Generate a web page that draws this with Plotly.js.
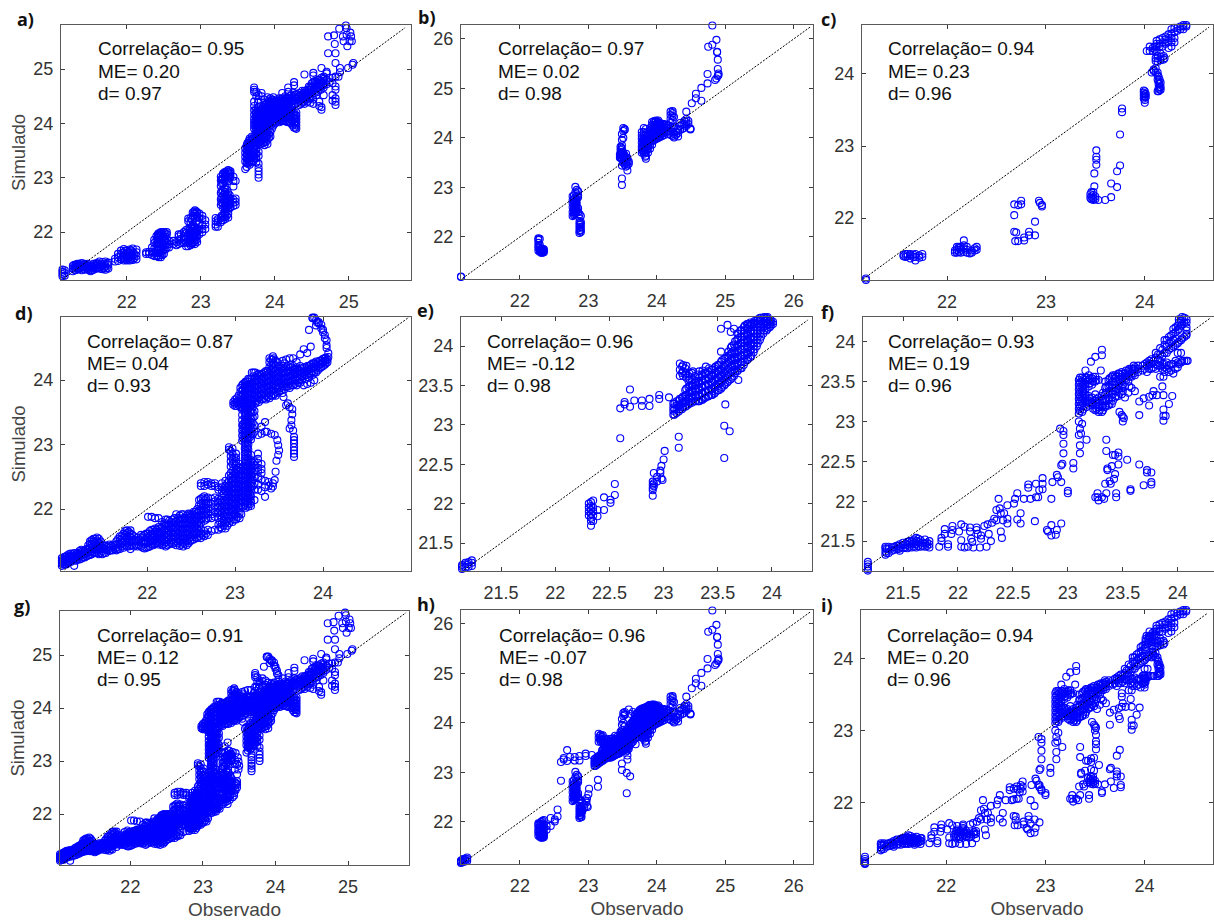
<!DOCTYPE html>
<html><head><meta charset="utf-8">
<script src="https://cdn.plot.ly/plotly-3.0.1.min.js"></script>
<style>html,body{margin:0;padding:0;background:#fff}</style></head>
<body><div id="chart" style="width:1214px;height:920px"></div>
<script>
// every strip below is [x, y, y, y ...]
const stripsA=[[21.1,21.2,21.24,21.28],[21.13,21.19,21.23,21.27,21.31],[21.16,21.2,21.25,21.3],
[21.27,21.28,21.33,21.38],[21.31,21.3,21.36,21.4],[21.35,21.32,21.37,21.42],[21.39,21.3,21.36,21.43],[21.43,21.31,21.37,21.42],[21.47,21.32,21.38,21.42],[21.51,21.28,21.34,21.39],[21.55,21.31,21.36,21.42],[21.59,21.33,21.38,21.43],[21.63,21.33,21.39,21.46],[21.67,21.32,21.38,21.45],[21.71,21.31,21.37,21.46],[21.75,21.33,21.4,21.44],
[21.84,21.46,21.51],[21.88,21.47,21.54,21.6],[21.92,21.5,21.58,21.66],[21.96,21.48,21.55,21.62,21.69],[22,21.48,21.55,21.62,21.66],[22.04,21.48,21.55,21.62,21.68],[22.08,21.49,21.56,21.63,21.7],[22.13,21.5,21.56,21.63,21.68],
[22.26,21.6,21.63],[22.3,21.6,21.64],[22.34,21.58,21.64,21.72],[22.37,21.56,21.62,21.7,21.8,21.86],[22.4,21.56,21.62,21.7,21.78,21.86,21.93],[22.43,21.54,21.62,21.7,21.78,21.86,21.94,21.98],[22.46,21.54,21.62,21.7,21.78,21.86,21.94,22],[22.5,21.6,21.68,21.76,21.84,21.92,22],[22.54,21.72,21.8,21.88,21.96,22],[22.57,21.72,21.78,21.84],
[22.63,21.78,21.84],[22.67,21.76,21.82],[22.7,21.78,21.85,21.92,21.96],[22.73,21.8,21.88,21.96],[22.77,21.8,21.86,21.92,22],[22.8,21.74,21.82,21.9,21.98,22.04],[22.83,21.74,21.8,21.88,21.96,22.06,22.2,22.25],[22.86,21.76,21.84,21.92,22,22.08,22.18,22.26],[22.89,21.8,21.9,21.98,22.06,22.14,22.3,22.36],[22.92,21.78,21.86,21.96,22.02,22.1,22.26,22.34,22.4],[22.95,21.82,21.92,22,22.06,22.2,22.28,22.36],[22.98,21.96,22.04,22.16,22.26,22.34],[23.02,22,22.06,22.14,22.24,22.3],[23.06,22.06,22.14,22.22],
[23.2,22.1,22.14,22.2,22.26],[23.23,22.1,22.18,22.24],[23.27,22.18,22.26,22.5,22.6,22.72,22.85,22.95,23.02],[23.3,22.22,22.3,22.44,22.52,22.6,22.68,22.76,22.9,22.98,23.06,23.08],[23.33,22.24,22.32,22.42,22.5,22.58,22.66,22.74,22.82,22.98,23.06,23.1],[23.37,22.27,22.34,22.44,22.5,22.58,22.64,22.72,22.94,23.02,23.1,23.14],[23.4,22.46,22.54,22.62,23.02,23.08,23.12],[23.44,22.48,22.54,22.6,22.84,22.94,23.02],[23.47,22.5,22.56,22.62,22.94],
[23.6,23.16,23.3,23.38,23.46,23.54],[23.63,23.26,23.34,23.42,23.5,23.58,23.64],[23.66,23.24,23.32,23.4,23.48,23.56,23.64,23.72],[23.69,23.28,23.36,23.44,23.52,23.6,23.68,23.76],
[23.72,23.36,23.44,23.52,23.6,23.68,23.76,23.9,23.96,24.02,24.08,24.16,24.24,24.32,24.4,24.58,24.62,24.66],
[23.75,23.28,23.36,23.44,23.52,23.6,23.68,23.76,23.82,23.9,23.96,24.02,24.08,24.14,24.2,24.5,24.58],
[23.78,23,23.06,23.12,23.18,23.26,23.4,23.48,23.62,23.7,23.78,23.86,23.92,23.98,24.04,24.1,24.16,24.22,24.3,24.44,24.52],
[23.82,23.62,23.68,23.76,23.84,23.9,23.96,24.02,24.08,24.14,24.2,24.26,24.5,24.56],
[23.86,23.6,23.66,23.74,23.82,23.9,23.96,24.02,24.08,24.14,24.2,24.26,24.34,24.44],
[23.9,23.62,23.7,23.78,23.86,23.94,24.02,24.08,24.14,24.2,24.26,24.32,24.38,24.48],
[23.94,23.76,23.84,23.96,24.04,24.1,24.16,24.22,24.28,24.34,24.4,24.46],
[23.98,23.96,24.04,24.1,24.16,24.22,24.28,24.34,24.4,24.48],
[24.02,24.02,24.08,24.14,24.2,24.26,24.32,24.38,24.44],
[24.06,24.02,24.08,24.14,24.2,24.26,24.32,24.38,24.46],
[24.1,24.04,24.1,24.16,24.22,24.28,24.34,24.4,24.46,24.56],
[24.14,24.04,24.1,24.16,24.24,24.3,24.36,24.42,24.5],
[24.18,24.02,24.1,24.18,24.26,24.34,24.4,24.46,24.58,24.66],
[24.22,24,24.08,24.16,24.24,24.32,24.4,24.46,24.52],
[24.26,23.92,24,24.08,24.14,24.2,24.42,24.5,24.56,24.7,24.76],
[24.29,23.9,23.96,24.02,24.08,24.14,24.2,24.46,24.54],
[24.33,24.34,24.42,24.5,24.56],[24.37,24.38,24.46,24.52,24.6],[24.4,24.36,24.46,24.54,24.6,24.9],[24.44,24.4,24.48,24.56,24.62],[24.48,24.38,24.46,24.54,24.62,24.68],[24.52,24.36,24.44,24.6,24.68,24.76,24.88,24.93],[24.56,24.52,24.6,24.7,24.76],[24.6,24.32,24.4,24.66,24.72,24.8],[24.63,24.25,24.3,24.68,24.76,24.84,25.02],[24.66,24.52,24.7,24.78,24.86],[24.7,24.72,24.8,24.92,24.95],[24.74,24.76,24.84],[24.78,24.42,24.52,24.74,24.84],[24.82,24.34,24.4,24.46,24.62,24.68,24.86],[24.86,24.86],
[24.72,25.29,25.6],[24.8,25.62],[24.81,25.46],[24.82,25.29,25.11],[24.88,25.02,24.94],[24.99,25.02],[25.05,25.08],[25.06,25.11],[24.87,25.74],[24.96,25.8],[24.97,25.75,25.63],[24.92,25.6],[25.02,25.67],[25.03,25.6],[24.93,25.51],[25.04,25.51],[24.98,25.42],[25.01,25.51],
[21.29,21.31,21.35,21.4],[21.33,21.33,21.38,21.42],[21.37,21.34,21.4],[21.41,21.33,21.4],[21.45,21.34,21.4],[21.49,21.3,21.36],[21.53,21.3,21.37],[21.57,21.33,21.4],[21.61,21.35,21.42],[21.65,21.36,21.42],[21.69,21.34,21.42],[21.73,21.34,21.42],[21.94,21.52,21.62],[21.98,21.5,21.58,21.66],[22.02,21.5,21.58,21.64],[22.06,21.5,21.58,21.66],[22.1,21.52,21.6],
[23.74,23.72,23.8,23.86,23.93,23.99,24.05,24.12,24.18,24.24],[23.77,23.66,23.74,23.81,23.88,23.94,24,24.07,24.13,24.2,24.28,24.38],[23.8,23.66,23.73,23.8,23.87,23.93,23.99,24.05,24.11,24.17,24.23],[23.84,23.64,23.71,23.79,23.87,23.93,23.99,24.05,24.11,24.17,24.23,24.3],[23.88,23.66,23.74,23.82,23.9,23.98,24.05,24.11,24.17,24.23,24.29,24.36],[23.92,23.73,23.8,23.9,24,24.05,24.11,24.17,24.23,24.29,24.35,24.42],[23.96,23.9,24,24.07,24.13,24.19,24.25,24.31,24.37,24.43],[24,24,24.05,24.11,24.17,24.23,24.29,24.35,24.41],[24.04,24.05,24.11,24.17,24.23,24.29,24.35,24.41],[24.08,24.06,24.12,24.18,24.24,24.3,24.36,24.42],[24.12,24.06,24.12,24.19,24.26,24.32,24.38,24.44],[24.16,24.03,24.12,24.2,24.28,24.35,24.42,24.48],[24.2,24.03,24.12,24.2,24.28,24.36,24.42,24.5],[24.24,23.96,24.04,24.12,24.2,24.34,24.42,24.48],[24.28,23.92,23.98,24.04,24.1,24.16,24.36,24.46,24.52],
[24.35,24.36,24.44,24.52],[24.39,24.4,24.48,24.56],[24.42,24.44,24.52,24.6],[24.46,24.46,24.54,24.62,24.68],[24.5,24.5,24.58,24.66,24.74],[24.54,24.56,24.64,24.72,24.78],[24.58,24.58,24.66,24.74,24.8],[24.62,24.62,24.7,24.78],[24.66,24.66,24.74,24.82],
[23.62,23.2,23.28,23.36,23.44,23.52,23.6],[23.65,23.28,23.36,23.44,23.52,23.6,23.68],[23.68,23.3,23.38,23.46,23.54,23.62,23.7],[23.71,23.3,23.4,23.48,23.56,23.64,23.72],[23.74,23.36,23.44,23.52,23.6],
[23.28,22.22,22.3,22.54,22.64,22.76,22.9,22.98],[23.32,22.28,22.36,22.46,22.54,22.62,22.7,22.8,22.94,23.02,23.1],[23.35,22.3,22.38,22.46,22.54,22.62,22.7,22.78,22.96,23.04,23.12],[23.39,22.44,22.52,22.6,22.68,23,23.06,23.12],
[22.42,21.56,21.66,21.74,21.82,21.9,21.96],[22.45,21.58,21.66,21.74,21.82,21.9,21.98],[22.48,21.58,21.66,21.74,21.82,21.9,21.98],[22.52,21.68,21.76,21.84,21.92,21.98],
[22.85,21.8,21.88,21.96,22.04],[22.88,21.78,21.86,21.94,22.02,22.1,22.24],[22.91,21.82,21.9,21.98,22.06,22.3,22.38],[22.94,21.86,21.94,22.02,22.2,22.3,22.38]];

const stripsB=[[21.14,21.19,21.2],
[22.27,21.97,21.94,21.88,21.82,21.78,21.72],[22.29,21.7,21.74,21.78,21.84,21.96],[22.31,21.68,21.72,21.76],[22.33,21.68,21.72,21.76],[22.35,21.69,21.72,21.75],
[22.77,22.42,22.5,22.6,22.68,22.74,22.82],[22.79,22.44,22.52,22.6,22.7,22.76,22.84],[22.81,22.48,22.56,22.64,22.72,22.8,22.9,23.01],[22.83,22.52,22.6,22.68,22.76,22.82,22.95],[22.85,22.5,22.58,22.8,22.84,22.92],
[22.87,22.08,22.12,22.18,22.24,22.3,22.38,22.46],[22.89,22.1,22.14,22.2,22.26,22.3,22.42],
[23.46,23.6,23.66],[23.47,23.6,23.7,23.76,23.82],[23.49,23.05,23.18,23.44,23.58,23.68,23.78,23.85,23.96,24.08],[23.51,23.5,23.62,23.7,24,24.14,24.2],[23.53,23.46,23.56,23.64,24.16,24.18],[23.55,23.42,23.5,23.6,23.68],[23.57,23.34,23.44,23.52,23.6],[23.59,23.48,23.52],
[23.78,23.7,23.76,23.82,23.9,23.98,24.05,24.12],[23.81,23.68,23.74,23.8,23.88,23.96,24.04,24.12,24.2],[23.84,23.58,23.64,23.72,23.8,23.86,23.94,24.02,24.1,24.18],[23.87,23.7,23.78,23.84,23.92,24,24.08],[23.9,23.78,23.86,23.94,24,24.08,24.14,24.2],[23.93,23.86,23.94,24.02,24.1,24.18,24.26,24.32],[23.96,23.96,24.02,24.1,24.18,24.26,24.34],[23.99,23.98,24.04,24.12,24.2,24.28,24.35],[24.02,24,24.08,24.16,24.24,24.32,24.35],[24.05,24.02,24.08,24.16,24.24,24.3],[24.08,24.04,24.12,24.2,24.28],[24.11,24.06,24.14,24.22,24.28],[24.14,24.12,24.2,24.26],[24.17,24.08,24.14,24.2,24.25],[24.2,24.06,24.14,24.22,24.3,24.38,24.46,24.53],[24.23,24.04,24.12,24.2,24.36,24.44,24.5,24.54],[24.25,24.01,24.08,24.22,24.42],[24.28,24.06,24.12],[24.31,24.03,24.1,24.18],[24.34,24.16,24.24,24.3],[24.37,24.18,24.26],[24.4,24.2,24.28,24.34],[24.43,24.24,24.32,24.38,24.53],[24.46,24.28,24.34],[24.49,24.17,24.18,24.19],
[24.51,24.7],[24.57,24.89,24.8],[24.65,24.75,25.01],[24.74,25.1,25.29],[24.85,25.17],[24.87,25.2,25.98],[24.9,25.27,25.3],[24.89,25.25,25.39,25.58],[24.88,25.73,25.74],[24.81,25.88,26.27],[24.75,25.84],
[23.95,23.94,24.06,24.14,24.22,24.3],[23.98,23.98,24.08,24.16,24.24,24.32],[24.01,24,24.06,24.14,24.22,24.3],[24.04,24.04,24.12,24.2,24.28],[24.07,24.08,24.16,24.24],[24.1,24.1,24.18,24.26],[23.8,23.72,23.8,23.88,23.96],[23.83,23.62,23.7,23.78,23.86,23.94],[23.86,23.76,23.82,23.9,23.96,24.04],[22.3,21.7,21.74],[22.32,21.7,21.74],[22.34,21.7,21.74],[22.8,22.46,22.54,22.62,22.7],[22.82,22.5,22.58,22.66,22.74],[22.88,22.14,22.2,22.28],[23.48,23.6,23.66,23.72,23.8],[23.5,23.56,23.64,23.7],[23.52,23.52,23.6,23.66]];

const stripsC=[[21.18,21.1,21.12,21.14,21.16],
[21.56,21.47,21.49],[21.58,21.46,21.5],[21.6,21.47,21.5],[21.63,21.44,21.48,21.5],[21.66,21.46,21.49],[21.68,21.41,21.46,21.5],[21.72,21.45,21.48],[21.75,21.46,21.5],
[22.08,21.52,21.55],[22.1,21.52,21.56,21.6],[22.12,21.53,21.58,21.6],[22.14,21.52,21.56,21.6],[22.17,21.53,21.58,21.62,21.69],[22.2,21.52,21.56,21.6],[22.23,21.51],[22.25,21.52,21.55],[22.28,21.55,21.58],[22.3,21.56,21.6],
[22.68,22.19,22.04,21.81],[22.7,21.8],[22.69,21.68],[22.72,22.18,21.68],[22.75,22.19,22.24],[22.78,21.69,21.73],[22.83,21.81,21.76],[22.89,21.76,21.95],[22.93,22.24],[22.94,22.21],[22.96,22.18,22.16],
[23.45,22.28,22.33],[23.46,22.26,22.3,22.36],[23.48,22.25,22.28,22.32,22.36],[23.5,22.26,22.3],[23.49,22.44,22.62],[23.51,22.74,22.81,22.85,22.94],[23.53,22.25],[23.6,22.25],[23.66,22.29,22.48],[23.72,22.43,22.65],[23.75,22.73,23.16],[23.77,23.47,23.52],
[23.99,23.66,23.7,23.74,23.77],[24,23.6,23.64,23.68,23.72,23.76],[24.01,23.68,23.72],
[24.07,24.02],[24.09,24.04,24.06],[24.11,24.02,24.08],[24.13,23.76,23.92,23.98,24.02],[24.14,23.76,23.8,23.86,23.9,23.96],[24.15,23.78,23.82,23.86,23.92],[24.16,23.78,23.82,23.88],
[24.11,24.18,24.22],[24.13,24.17,24.22,24.25],[24.16,24.19,24.24,24.28],[24.19,24.2,24.25],[24.2,24.22],
[24.02,24.32],[24.05,24.32,24.38],[24.08,24.32,24.36],[24.1,24.34,24.38],[24.12,24.32,24.38,24.42,24.46],[24.15,24.38,24.42,24.48],[24.18,24.38,24.44,24.5],[24.21,24.42,24.48,24.52],[24.24,24.36,24.44,24.5,24.55],[24.27,24.38,24.44,24.5,24.56,24.62],[24.3,24.44,24.5,24.58,24.64],[24.33,24.6,24.64],[24.36,24.62,24.66],[24.39,24.62,24.66,24.68],[24.42,24.66,24.68]];

const stripsD=[[21,21.13,21.18],[21.03,21.12,21.16,21.2,21.24],[21.06,21.14,21.18,21.22,21.26],[21.09,21.16,21.2,21.24,21.28],[21.13,21.18,21.22,21.27,21.31],[21.17,21.12,21.22,21.27,21.32],[21.21,21.22,21.27,21.32],[21.25,21.23,21.28,21.33,21.37],[21.29,21.25,21.3,21.35],[21.33,21.28,21.33,21.38,21.44],[21.37,21.3,21.35,21.4,21.45,21.52],[21.41,21.32,21.38,21.43,21.48,21.54],[21.45,21.3,21.36,21.42,21.48,21.54],[21.49,21.3,21.35,21.4,21.44],[21.53,21.32,21.38,21.43],[21.57,21.35,21.4,21.45],[21.61,21.36,21.41,21.45],[21.65,21.36,21.4,21.45,21.5],[21.69,21.38,21.45,21.52,21.58],[21.73,21.4,21.48,21.55,21.62],[21.77,21.42,21.48,21.55,21.63,21.67],[21.81,21.38,21.44,21.5,21.56,21.62,21.67],[21.85,21.42,21.5,21.58],[21.89,21.42,21.5,21.56],[21.93,21.42,21.48,21.56,21.6],[21.97,21.39,21.46,21.52,21.6],[22.01,21.41,21.48,21.55,21.62,21.88],[22.05,21.45,21.52,21.6,21.68,21.88],
[22.09,21.46,21.52,21.58,21.64,21.7,21.86],[22.13,21.45,21.51,21.58,21.65,21.72,21.86],[22.17,21.44,21.5,21.57,21.64,21.72,21.8],[22.21,21.42,21.49,21.56,21.63,21.7,21.78,21.84],[22.25,21.46,21.54,21.6,21.66,21.74,21.82],[22.29,21.46,21.52,21.6,21.68,21.76,21.84],[22.33,21.44,21.5,21.57,21.64,21.72,21.8,21.92],[22.37,21.43,21.5,21.58,21.66,21.74,21.82,21.9],[22.41,21.42,21.48,21.56,21.64,21.7,21.78,21.86,21.92],[22.45,21.44,21.5,21.58,21.66,21.74,21.82,21.9],[22.49,21.5,21.56,21.64,21.72,21.8,21.88,21.92],[22.53,21.53,21.6,21.66,21.74,21.82,21.9,21.96],[22.57,21.55,21.62,21.7,21.78,21.86,21.94,22],[22.61,21.55,21.62,21.7,21.78,21.84,21.9,21.98,22.08,22.16,22.36,22.4],[22.65,21.58,21.66,21.82,21.9,21.98,22.06,22.14,22.2,22.36,22.42],[22.69,21.6,21.68,21.86,21.94,22.02,22.1,22.18,22.38,22.42],[22.73,21.66,21.86,21.92,22,22.08,22.16,22.36,22.4],[22.77,21.68,21.88,21.96,22.04,22.12,22.18,22.36,22.4],[22.81,21.68,21.76,21.86,21.94,22.02,22.1,22.16,22.3,22.34],[22.85,21.7,21.78,21.86,21.94,22.02,22.1,22.2,22.28,22.34,22.4],[22.89,21.7,21.78,21.88,21.96,22.04,22.12,22.2,22.28,22.36,22.44],[22.93,21.78,21.86,21.96,22.04,22.12,22.2,22.28,22.36,22.44,22.52,22.92,22.96],[22.97,21.8,21.88,21.96,22.04,22.12,22.2,22.28,22.36,22.44,22.52,22.6,22.7,22.78,22.86,22.94],[23.01,21.84,21.92,22,22.08,22.16,22.24,22.32,22.4,22.48,22.56,22.62,22.68,22.74,22.8,22.86],[23.05,21.86,21.94,22.02,22.1,22.18,22.26,22.34,22.42,22.5,22.58,22.64,22.7],
[23.09,22.04,22.12,22.2,22.28,22.36,22.44,22.52,22.6,22.66,23.1,23.18,23.26,23.32],[23.12,22.02,22.1,22.18,22.26,22.34,22.42,22.5,22.58,22.66,22.74,22.82,22.9,22.98,23.06,23.14,23.22,23.3,23.38,23.46,23.54,23.62],[23.15,22.04,22.12,22.2,22.28,22.36,22.44,22.52,22.6,22.68,22.76,22.84,22.92,23,23.08,23.16,23.24,23.32,23.4,23.48,23.56],[23.18,22.05,22.12,22.2,22.28,22.36,22.44,22.52,22.6,22.68,22.76,22.84,23.08,23.16,23.24,23.32,23.4,23.5,23.6],
[23.22,22.14,22.3,22.4,22.5,22.6,22.68,22.74,23.2,23.3,23.44,23.52],[23.26,22.3,22.38,22.5,22.58,22.64,22.72,22.78,22.86,23.15],[23.3,22.28,22.46,22.56,22.62,22.7,23.17,23.28],[23.34,22.19,22.34,22.44,23.2,23.35],[23.36,23.2],[23.38,22.36,22.42],[23.41,22.32,23.17],[23.43,22.35,22.4],[23.45,22.45,23.15],[23.46,22.58],[23.47,22.75],[23.48,23.07],[23.49,22.84,22.99],[23.5,22.91],
[23.55,23.74],[23.58,23.61],[23.6,23.64],[23.62,23.25,23.58],[23.64,23.38,23.3],[23.65,23.47,23.55],[23.66,23.22],[23.67,22.81,22.86,22.91,22.96,23.02,23.07,23.12],
[22.98,23.62,23.66],[23.02,23.6,23.66,23.72],[23.06,23.58,23.66,23.74,23.82,23.88],[23.09,23.56,23.64,23.7,23.78,23.86,23.94],[23.12,23.7,23.76,23.84,23.92,23.98],[23.15,23.64,23.72,23.78,23.86,23.94,24.02],[23.19,23.62,23.7,23.78,23.86,23.94,24.02,24.12],[23.23,23.64,23.72,23.8,23.88,23.96,24.04,24.12],[23.27,23.66,23.74,23.82,23.9,23.98,24.06,24.1],[23.31,23.7,23.78,23.86,23.94,24.02,24.1],[23.35,23.7,23.76,23.84,23.92,24,24.08,24.14],[23.39,23.72,23.8,23.88,23.96,24.04,24.12,24.2,24.28,24.34],[23.43,23.76,23.84,23.92,24,24.08,24.16,24.24,24.32,24.37],[23.46,23.76,23.82,23.9,23.98,24.06,24.14,24.22,24.3],[23.5,23.82,23.9,23.98,24.06,24.14,24.22],[23.54,23.8,23.9,23.98,24.06,24.14,24.22,24.3],[23.58,23.9,23.96,24.04,24.12,24.2,24.32],[23.62,23.88,23.96,24.04,24.12,24.2,24.34],[23.66,23.92,24,24.08,24.16,24.22,24.34],[23.7,23.92,24,24.06,24.12,24.2,24.28],[23.74,23.96,24.02,24.08,24.14,24.22,24.4],[23.78,23.92,24.06,24.12,24.2,24.48],[23.82,23.94,24.08,24.14,24.22,24.42],[23.86,23.96,24.1,24.18,24.24,24.52],[23.9,24,24.12,24.2,24.26],[23.94,24.15,24.22,24.28],[23.98,24.2,24.26,24.31],[24.02,24.24,24.3,24.34],[24.05,24.28,24.32],
[24.06,24.36,24.42],[24.04,24.5,24.54,24.62],[24.02,24.65,24.7],[24,24.74,24.78],[23.98,24.8,24.86],[23.95,24.88,24.9],[23.92,24.93,24.85],[23.88,24.97,24.96],[23.9,24.97],[23.84,24.78],[23.93,24.9],
[21.04,21.14,21.18,21.22],[21.08,21.14,21.18,21.22,21.26],[21.11,21.18,21.22,21.26,21.3],[21.15,21.2,21.25,21.3],[21.19,21.2,21.25,21.3],[21.23,21.22,21.27,21.31,21.35],[21.27,21.25,21.3,21.35],[21.31,21.27,21.32,21.38],[21.35,21.29,21.34,21.4,21.46,21.5],[21.39,21.32,21.38,21.44,21.5,21.54],[21.43,21.32,21.38,21.44,21.5,21.56],[21.47,21.32,21.38,21.44,21.5],[21.51,21.32,21.38,21.44],[21.55,21.36,21.42],[21.59,21.37,21.43],[21.63,21.38,21.44],[21.67,21.38,21.46,21.54],[21.71,21.42,21.5,21.58],[21.75,21.44,21.52,21.6,21.66],[21.79,21.42,21.5,21.58,21.65],[21.83,21.44,21.52,21.6],[21.87,21.44,21.52],[21.91,21.44,21.52],[21.95,21.4,21.5,21.58],[21.99,21.4,21.48,21.56,21.62],[22.03,21.42,21.5,21.58,21.66],
[22.07,21.44,21.5,21.56,21.62,21.68],[22.11,21.48,21.55,21.62,21.68],[22.15,21.47,21.54,21.62,21.7],[22.19,21.46,21.53,21.6,21.68,21.76],[22.23,21.44,21.52,21.6,21.68,21.76,21.84],[22.27,21.48,21.56,21.64,21.72,21.8],[22.31,21.48,21.56,21.64,21.72,21.8,21.86],[22.35,21.47,21.54,21.62,21.7,21.78,21.86],[22.39,21.45,21.52,21.6,21.68,21.76,21.84,21.92],[22.43,21.46,21.54,21.62,21.7,21.78,21.86],[22.47,21.47,21.54,21.62,21.7,21.78,21.86,21.93],[22.51,21.52,21.6,21.68,21.76,21.84,21.92],[22.55,21.56,21.64,21.72,21.8,21.88,21.96],[22.59,21.58,21.66,21.74,21.82,21.9,21.98,22.06,22.14],[22.63,21.6,21.86,21.94,22.02,22.1,22.18],[22.67,21.62,21.84,21.92,22,22.08,22.16],[22.83,21.72,21.8,21.9,21.98,22.06,22.14],[22.87,21.74,21.82,21.9,21.98,22.06,22.14,22.24,22.32],[22.91,21.74,21.82,21.92,22,22.08,22.16,22.24,22.32,22.4],[22.95,21.82,21.9,22,22.08,22.16,22.24,22.32,22.4,22.48,22.56,22.66,22.74,22.82,22.9],[22.99,21.84,21.92,22,22.08,22.16,22.24,22.32,22.4,22.48,22.56,22.64,22.72,22.8],[23.03,21.88,21.96,22.04,22.12,22.2,22.28,22.36,22.44,22.52,22.6],[23.07,21.92,22.06,22.14,22.22,22.3,22.38,22.46,22.54,22.62],[23.11,22.06,22.14,22.22,22.3,22.38,22.46,22.54,22.62,22.7,22.78,22.86,22.94,23.02,23.1,23.18,23.26,23.34,23.42,23.5,23.58],[23.14,22.08,22.16,22.24,22.32,22.4,22.48,22.56,22.64,22.72,22.8,22.88,22.96,23.04,23.12,23.2,23.28,23.36,23.44,23.52,23.6],[23.17,22.08,22.16,22.24,22.32,22.4,22.48,22.56,22.64,22.72,23.12,23.2,23.28,23.36,23.44,23.52,23.6],[23.08,23.06,23.14,23.22,23.3,23.38,23.46,23.54],[23.2,22.36,22.46,22.56,22.64,22.72,23.16,23.26,23.34,23.42,23.5,23.58],
[23,23.6,23.64,23.7],[23.04,23.62,23.68,23.76],[23.08,23.6,23.68,23.76,23.84,23.92],[23.11,23.6,23.68,23.74,23.82,23.9,23.96],[23.14,23.66,23.74,23.82,23.9,23.98],[23.17,23.64,23.7,23.78,23.86,23.94,24.02],[23.21,23.66,23.74,23.82,23.9,23.98,24.06,24.12],[23.25,23.68,23.76,23.84,23.92,24,24.08],[23.29,23.7,23.78,23.86,23.94,24.02,24.08],[23.33,23.72,23.8,23.88,23.96,24.04,24.12],[23.37,23.74,23.82,23.9,23.98,24.06,24.14],[23.41,23.76,23.84,23.92,24,24.08,24.16,24.24,24.32],[23.44,23.78,23.86,23.94,24.02,24.1,24.18,24.26,24.34],[23.48,23.8,23.88,23.96,24.04,24.12,24.2,24.28],[23.52,23.84,23.94,24.02,24.1,24.18],[23.56,23.86,23.94,24.02,24.1,24.18,24.26],[23.6,23.9,23.98,24.06,24.14,24.22],[23.64,23.92,24,24.08,24.14,24.2],[23.68,23.94,24.02,24.1,24.16],[23.72,23.96,24.04,24.1,24.16],[23.76,24,24.06,24.12,24.18],[23.8,24.02,24.08,24.14,24.2],[23.84,24.04,24.1,24.16,24.22],[23.88,24.08,24.14,24.2,24.26],[23.92,24.12,24.18,24.24,24.29],[23.96,24.18,24.24,24.3],[24,24.22,24.28,24.33],[24.03,24.26,24.3,24.35]];

const stripsE=[[21.14,21.17,21.2,21.22],[21.17,21.19,21.23,21.25],[21.2,21.2,21.23,21.26],[21.23,21.21,21.25,21.28],
[22.31,21.85,21.9,21.95,22],[22.33,21.72,21.78,21.82,21.87,21.92,21.97,22.02],[22.35,21.78,21.85,21.9,21.95,22.04],[22.39,21.92,21.84],[22.45,21.92,22.08],[22.51,22.05,22.01],[22.55,22.11,22.25],
[22.9,22.1,22.17,22.2,22.24,22.28],[22.91,22.39,22.22,22.26],[22.94,22.34,22.28],[22.97,22.39,22.42],[22.98,22.48,22.32],[22.99,22.3],[23,22.56],[23.01,22.67],
[22.6,22.83,23.21],[22.64,23.26,23.29],[22.69,23.23,23.45],[22.73,23.31],[22.8,23.31,23.24],[22.87,23.33,23.24],[22.96,23.38,23.33],[23.05,23.35],[23.14,22.71,22.85],
[23.56,22.58,22.99],[23.61,22.92],[23.57,23.26],[23.53,24.22,23.93],[23.59,24.27],[23.62,24.18],[23.65,24.22],[23.6,23.93],[23.69,23.57],
[23.09,23.13,23.18,23.22,23.27],[23.12,23.15,23.2,23.25,23.3],[23.15,23.2,23.26,23.33,23.62,23.7,23.78],[23.18,23.22,23.28,23.36,23.62,23.68,23.76],[23.21,23.24,23.3,23.38,23.46,23.6,23.66,23.75],[23.24,23.28,23.34,23.42,23.5,23.58,23.65],[23.27,23.3,23.36,23.44,23.52,23.68],[23.3,23.3,23.36,23.42,23.5,23.56],[23.33,23.3,23.36,23.44,23.52,23.6,23.68],[23.36,23.32,23.4,23.48,23.56,23.62,23.69],[23.39,23.35,23.42,23.5,23.58,23.66,23.74],[23.42,23.37,23.44,23.5,23.58,23.64,23.72],[23.45,23.38,23.46,23.54,23.62,23.7],[23.48,23.42,23.5,23.58,23.66,23.74],[23.51,23.44,23.52,23.6,23.68,23.76],[23.54,23.48,23.56,23.64,23.72,23.82],[23.57,23.52,23.6,23.68,23.76,23.84],[23.6,23.56,23.64,23.72,23.8,23.88],[23.63,23.6,23.68,23.76,23.84,23.92,24],[23.66,23.66,23.74,23.82,23.9,23.98,24.06],[23.69,23.7,23.78,23.86,23.94,24.02,24.1,24.16],[23.72,23.72,23.8,23.88,23.96,24.04,24.12,24.2],[23.75,23.8,23.88,23.96,24.04,24.12,24.2,24.26],[23.78,23.84,23.92,24,24.08,24.16,24.24,24.28],[23.81,23.88,23.96,24.04,24.12,24.2,24.28],[23.84,23.96,24.04,24.12,24.2,24.28,24.32],[23.87,24.04,24.12,24.2,24.28,24.34],[23.9,24.12,24.2,24.28,24.36],[23.93,24.2,24.26,24.32,24.37],[23.96,24.22,24.28,24.34,24.37],[23.99,24.26,24.3,24.33],[24.01,24.28,24.31],
[23.1,23.13,23.2,23.27],[23.14,23.17,23.24,23.31],[23.17,23.2,23.27,23.34,23.66,23.74],[23.2,23.23,23.3,23.37,23.44,23.64,23.72],[23.23,23.26,23.33,23.4,23.48,23.56,23.62],[23.26,23.28,23.34,23.42,23.5,23.58,23.66],[23.29,23.3,23.38,23.46,23.54,23.62],[23.32,23.3,23.38,23.46,23.54,23.64],[23.35,23.32,23.4,23.48,23.56,23.64],[23.38,23.34,23.42,23.5,23.58,23.66],[23.41,23.36,23.44,23.52,23.6,23.68],[23.44,23.38,23.46,23.54,23.62,23.7],[23.47,23.4,23.48,23.56,23.64,23.72],[23.5,23.44,23.52,23.6,23.68,23.76],[23.53,23.46,23.54,23.62,23.7,23.8],[23.56,23.5,23.58,23.66,23.74,23.84],[23.59,23.54,23.62,23.7,23.78,23.86],[23.62,23.58,23.66,23.74,23.82,23.9,23.98],[23.65,23.62,23.7,23.78,23.86,23.94,24.02],[23.68,23.68,23.76,23.84,23.92,24,24.08,24.16],[23.71,23.72,23.8,23.88,23.96,24.04,24.12,24.2],[23.74,23.76,23.84,23.92,24,24.08,24.16,24.24],[23.77,23.82,23.9,23.98,24.06,24.14,24.22,24.28],[23.8,23.86,23.94,24.02,24.1,24.18,24.26,24.3],[23.83,23.92,24,24.08,24.16,24.24,24.3],[23.86,24,24.08,24.16,24.24,24.32],[23.89,24.08,24.16,24.24,24.32,24.36],[23.92,24.16,24.24,24.3,24.36],[23.95,24.2,24.26,24.32,24.36],[23.98,24.24,24.28,24.32]];

const stripsF=[[21.18,21.11,21.13,21.15,21.18,21.21,21.24],
[21.34,21.33,21.37,21.41,21.43],[21.37,21.35,21.4,21.43],[21.4,21.38,21.42],[21.44,21.4,21.44],[21.47,21.38,21.42,21.46],[21.5,21.41,21.45,21.48],[21.54,21.41,21.45,21.49],[21.58,21.42,21.46,21.5],[21.62,21.42,21.46,21.5,21.54],[21.66,21.43,21.47,21.51],[21.7,21.43,21.47,21.52],[21.74,21.42,21.46,21.5],[21.83,21.43],
[21.85,21.54,21.5],[21.88,21.59,21.65],[21.91,21.46,21.43],[21.94,21.59],[21.95,21.69,21.64],[22.01,21.62],[22.03,21.71,21.51,21.43],[22.06,21.42,21.68],[22.09,21.43],[22.11,21.62,21.67],[22.12,21.53],[22.13,21.49],[22.14,21.42],[22.17,21.64,21.67],[22.18,21.59],[22.2,21.42],[22.21,21.57,21.53],[22.26,21.43],[22.24,21.69],[22.27,21.71],[22.28,21.59],[22.3,21.5],[22.31,21.73],[22.33,21.78],[22.35,21.76,21.89],[22.37,22.03],[22.38,21.91],[22.39,21.85,21.62],[22.4,21.54],[22.41,21.76],[22.42,21.85],[22.45,21.78,21.72,21.95],[22.51,21.97],[22.52,22.03],[22.54,22.1,21.77],[22.57,21.85,21.72],[22.6,22.03],[22.64,22.21,22.17],[22.66,22.03],[22.7,21.75],[22.71,22.22,22.05],[22.73,22.05],[22.74,22.14],[22.77,22.22,22.29,22.15],[22.85,22.03,21.7,21.57],[22.81,21.64],[22.82,21.62],[22.89,21.58],[22.9,21.64,22.33],[22.94,21.72,22.24,22.45],[22.86,22.24],[22.91,22.3],[22.95,22.47],[22.96,22.6,22.72,22.83,22.88],[22.93,22.91],[23,22.13,22.1],[23.05,22.48,22.41],
[23.11,22.6,22.7,22.91],[23.1,22.83,23],[23.12,22.85],[23.17,22.77],[23.13,22.97],
[23.35,22.77,22.63,22.1],[23.36,22.41,22.39],[23.4,22.44],[23.41,22.58],[23.43,22.58,22.34],[23.46,22.61,22.56,22.46],[23.54,22.52],[23.65,22.46],[23.72,22.39,22.36],[23.76,22.36,22.24,22.21],[23.69,22.2],[23.57,22.15,22.13],[23.44,22.1,22.05],[23.33,22.03],[23.27,22.1,22.05],[23.28,22.01],[23.31,22.05],[23.34,22.22],[23.38,22.25],[23.39,22.22],[23.42,22.28],[23.25,22.05],
[23.47,23.12],[23.49,23.08],[23.5,23.06,23],[23.51,23.04],[23.65,23.08,23.25],[23.69,23.29],[23.74,23.2,23.31],[23.77,23.33],[23.78,23.38],[23.81,23.33],[23.86,23.44],[23.87,23.33,23.15,23.07,23.01,23.56],[23.89,23.07],[23.92,23.22],[23.95,23.32],
[23.16,23.64],[23.21,23.75],[23.25,23.81],[23.31,23.9,23.83],[23.3,23.64],
[23.1,23.1,23.16,23.22,23.28,23.34,23.4,23.46,23.52],[23.13,23.12,23.2,23.26,23.32,23.38,23.44,23.5,23.55],[23.16,23.26,23.34,23.4,23.46,23.52],[23.19,23.2,23.26,23.32,23.44,23.52,23.58],[23.22,23.2,23.24,23.3,23.46,23.54],[23.25,23.14,23.2,23.26,23.34,23.5,23.56],[23.28,23.12,23.18,23.24,23.3,23.52],[23.31,23.12,23.18,23.26,23.32],[23.34,23.18,23.26,23.34,23.42,23.5],[23.37,23.2,23.28,23.36,23.44,23.52],[23.4,23.22,23.3,23.38,23.46,23.56],[23.43,23.3,23.38,23.46,23.54,23.58],[23.46,23.32,23.4,23.5,23.56,23.6],[23.49,23.34,23.42,23.5,23.56,23.62],[23.52,23.3,23.44,23.54,23.6],[23.55,23.36,23.5,23.58,23.64],[23.58,23.42,23.56,23.6,23.66],[23.61,23.38,23.58,23.64,23.68],[23.64,23.62,23.66,23.7],[23.68,23.64,23.7],[23.72,23.62,23.7,23.74],[23.76,23.66,23.72,23.78],[23.8,23.66,23.72,23.8,23.86],[23.84,23.56,23.7,23.76,23.84,23.92],[23.88,23.62,23.68,23.72,23.86,23.96,24.02],[23.92,23.62,23.7,23.9,23.98,24.06],[23.96,23.6,23.72,23.94,24.02,24.1,24.16],[24,23.68,23.74,23.86,23.98,24.14,24.2],[24.03,23.74,23.86,24.02,24.2,24.26],[24.06,23.76,24.06,24.24,24.3],[24.09,23.76],[24.08,24.1,24.14,24.18],
[21.35,21.35,21.4],[21.42,21.39,21.43],[21.46,21.4,21.44],[21.52,21.42,21.46],[21.56,21.43,21.47,21.5],[21.6,21.43,21.48,21.52],[21.64,21.44,21.49,21.53],[21.68,21.44,21.48],[21.72,21.44,21.48],
[23.11,23.13,23.19,23.25,23.31,23.37,23.43,23.49,23.55],[23.14,23.15,23.23,23.29,23.35,23.41,23.47,23.53],[23.17,23.18,23.24,23.3,23.5,23.55],[23.2,23.23,23.29,23.48,23.54],[23.23,23.16,23.22,23.5,23.56],[23.26,23.16,23.22,23.28,23.52],[23.29,23.14,23.2,23.26],[23.32,23.14,23.2,23.28,23.36],[23.35,23.2,23.28,23.36,23.44],[23.38,23.22,23.3,23.38,23.46,23.54],[23.41,23.26,23.34,23.42,23.5,23.58],[23.44,23.32,23.42,23.5,23.56],[23.47,23.36,23.44,23.52,23.6],[23.5,23.38,23.46,23.54,23.6],[23.53,23.52,23.58,23.64],[23.56,23.44,23.56,23.62,23.66],[23.6,23.6,23.66,23.7],[23.7,23.66,23.72],[23.74,23.66,23.72,23.76],[23.78,23.68,23.76],[23.82,23.7,23.78,23.84],[23.86,23.66,23.72,23.82,23.9],[23.9,23.66,23.74,23.86,23.94,24.02],[23.94,23.64,23.72,23.92,24,24.08],[23.98,23.66,23.76,23.96,24.04,24.12,24.18],[24.01,23.72,24,24.16,24.24,24.28],[24.04,23.76,24.04,24.22,24.28,24.31],[24.08,23.76,24.08,24.24,24.28]];

const diagA=[21.14,25.76],diagB=[21.16,26.24],diagC=[21.15,24.65],diagD=[21.06,24.98],diagE=[21.16,24.33],diagF=[21.13,24.3],diagG=[21.08,25.8],diagH=[21.16,26.24],diagI=[21.15,24.63];
const corrText=["Correlação= 0.95","Correlação= 0.97","Correlação= 0.94","Correlação= 0.87","Correlação= 0.96","Correlação= 0.93","Correlação= 0.91","Correlação= 0.96","Correlação= 0.94"];
const meText=["ME= 0.20","ME= 0.02","ME= 0.23","ME= 0.04","ME= -0.12","ME= 0.19","ME= 0.12","ME= -0.07","ME= 0.20"];
const dText=["d= 0.97","d= 0.98","d= 0.96","d= 0.93","d= 0.98","d= 0.96","d= 0.95","d= 0.98","d= 0.96"];
const labelText=["a)","b)","c)","d)","e)","f)","g)","h)","i)"];
const ticksInt=[22,23,24,25,26];
const ticksHalf=[21.5,22,22.5,23,23.5,24];

function flat(strips){const x=[],y=[];strips.forEach(s=>{for(let i=1;i<s.length;i++){x.push(s[0]);y.push(s[i]);}});return {x,y};}
const A=flat(stripsA),B=flat(stripsB),C=flat(stripsC),D=flat(stripsD),E=flat(stripsE),F=flat(stripsF);
// third row is the union of the two rows above
const G={x:A.x.concat(D.x),y:A.y.concat(D.y)},H={x:B.x.concat(E.x),y:B.y.concat(E.y)},I={x:C.x.concat(F.x),y:C.y.concat(F.y)};

const W=1214,Hh=920;
const panels=[
 {d:A,diag:diagA,box:[61,411,25,280],xr:[21.11,25.84],yr:[21.12,25.81],tx:96,ty:49,lx:15,ly:19,xt:ticksInt.slice(0,4),yt:ticksInt.slice(0,4)},
 {d:B,diag:diagB,box:[461,813,25,279],xr:[21.14,26.28],yr:[21.15,26.28],tx:496,ty:49,lx:416,ly:17,xt:ticksInt,yt:ticksInt},
 {d:C,diag:diagC,box:[862,1213,25,280],xr:[21.14,24.69],yr:[21.14,24.68],tx:886,ty:49,lx:819,ly:19,xt:ticksInt.slice(0,3),yt:ticksInt.slice(0,3)},
 {d:D,diag:diagD,box:[61,411,317,571],xr:[21.02,25],yr:[21.04,24.98],tx:85,ty:341,lx:13,ly:313,xt:ticksInt.slice(0,3),yt:ticksInt.slice(0,3)},
 {d:E,diag:diagE,box:[461,812,317,571],xr:[21.13,24.37],yr:[21.145,24.37],tx:485,ty:341,lx:415,ly:310,xt:ticksHalf,yt:ticksHalf},
 {d:F,diag:diagF,box:[863,1214,317,571],xr:[21.136,24.33],yr:[21.125,24.31],tx:886,ty:341,lx:819,ly:312,xt:ticksHalf,yt:ticksHalf},
 {d:G,diag:diagG,box:[60,409,611,865],xr:[21.03,25.84],yr:[21.04,25.83],tx:95,ty:635,lx:12,ly:606,xt:ticksInt.slice(0,4),yt:ticksInt.slice(0,4)},
 {d:H,diag:diagH,box:[461,813,610,864],xr:[21.14,26.28],yr:[21.15,26.28],tx:497,ty:635,lx:415,ly:604,xt:ticksInt,yt:ticksInt},
 {d:I,diag:diagI,box:[861,1213,610,864],xr:[21.14,24.69],yr:[21.14,24.68],tx:885,ty:635,lx:819,ly:605,xt:ticksInt.slice(0,3),yt:ticksInt.slice(0,3)}
];
const FONT='"Liberation Sans",Arial,sans-serif';
const traces=[],annotations=[];
const layout={width:W,height:Hh,margin:{l:0,r:0,t:0,b:0},paper_bgcolor:'#fff',plot_bgcolor:'#fff',showlegend:false,annotations};
panels.forEach((p,i)=>{
 const n=i+1,xa=n===1?'x':'x'+n,ya=n===1?'y':'y'+n;
 traces.push({type:'scatter',mode:'markers',x:p.d.x,y:p.d.y,xaxis:xa,yaxis:ya,cliponaxis:false,hoverinfo:'skip',
  marker:{symbol:'circle-open',size:7,color:'#0000ff',line:{width:1.1,color:'#0000ff'}}});
 traces.push({type:'scatter',mode:'lines',x:p.diag,y:p.diag,xaxis:xa,yaxis:ya,hoverinfo:'skip',
  line:{color:'#000',width:1,dash:'2px,1.5px'}});
 const common={showgrid:false,zeroline:false,showline:true,linecolor:'#5a5a5a',linewidth:1,mirror:'ticks',ticks:'inside',ticklen:4,tickcolor:'#3a3a3a',tickwidth:1,tickfont:{family:FONT,size:18,color:'#333'}};
 layout[n===1?'xaxis':'xaxis'+n]=Object.assign({},common,{ticklabelstandoff:5,anchor:ya,domain:[p.box[0]/W,p.box[1]/W],range:p.xr,tickmode:'array',tickvals:p.xt,ticktext:p.xt.map(String),
  title:i>=6?{text:'Observado',font:{family:FONT,size:19,color:'#444'},standoff:7}:undefined});
 layout[n===1?'yaxis':'yaxis'+n]=Object.assign({},common,{ticklabelstandoff:3,anchor:xa,domain:[1-p.box[3]/Hh,1-p.box[2]/Hh],range:p.yr,tickmode:'array',tickvals:p.yt,ticktext:p.yt.map(String),
  title:i%3===0?{text:'Simulado',font:{family:FONT,size:18.5,color:'#444'},standoff:2}:undefined});
 [corrText[i],meText[i],dText[i]].forEach((t,k)=>annotations.push({xref:'paper',yref:'paper',x:p.tx/W,y:1-(p.ty+k*22)/Hh,xanchor:'left',yanchor:'middle',showarrow:false,text:t,font:{family:FONT,size:19,color:'#111'}}));
 annotations.push({xref:'paper',yref:'paper',x:p.lx/W,y:1-p.ly/Hh,xanchor:'left',yanchor:'middle',showarrow:false,text:'<b>'+labelText[i]+'</b>',font:{family:'"Open Sans",sans-serif',size:18,color:'#111'}});
});
Plotly.newPlot('chart',traces,layout,{staticPlot:true,displayModeBar:false});
</script></body></html>
